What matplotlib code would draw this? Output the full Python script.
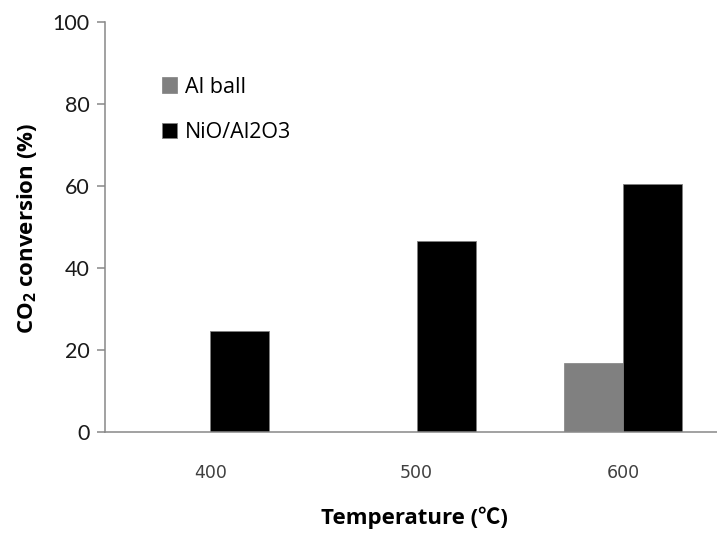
import numpy as np
import matplotlib
matplotlib.use("Agg")
import matplotlib.pyplot as plt

plt.rcParams['font.family'] = ['Lato', 'DejaVu Sans']
plt.rcParams['mathtext.default'] = 'regular'

temps = ['400', '500', '600']
al_ball = [0, 0, 16.8]
nio = [24.6, 46.6, 60.6]

fig = plt.figure(figsize=(7.17, 5.34), dpi=100)
ax = fig.add_axes([105/717, 102/534, 612/717, 410/534])

x = np.arange(len(temps))
w = 0.285
ax.bar(x - w/2, al_ball, w, color='#808080', edgecolor='#808080', linewidth=0.5, label='Al ball')
ax.bar(x + w/2, nio, w, color='black', edgecolor='#7f7f7f', linewidth=0.6, label='NiO/Al2O3')

ax.set_xlim(-0.51, 2.455)
ax.set_ylim(0, 100)
ax.set_yticks([0, 20, 40, 60, 80, 100])
ax.set_xticks(x)
ax.set_xticklabels(temps, family=['Liberation Sans Narrow', 'DejaVu Sans'], fontsize=12.5, color='#404040')

for s in ['top', 'right']:
    ax.spines[s].set_visible(False)
for s in ['left', 'bottom']:
    ax.spines[s].set_color('#888888')
    ax.spines[s].set_linewidth(1.1)

ax.tick_params(axis='y', direction='out', length=6, width=1.1, color='#888888',
               labelsize=15.5, labelcolor='#1a1a1a', pad=5)
ax.tick_params(axis='x', length=0, pad=23)

ax.set_xlabel('Temperature (℃)', fontsize=16, fontweight='bold',
              family=['Open Sans', 'Noto Sans CJK SC', 'DejaVu Sans'])
ax.xaxis.label.set_va('center')
ax.xaxis.set_label_coords(0.505, -0.21)

ax.set_ylabel('CO$_2$ conversion (%)', fontsize=16, fontweight='bold',
              family=['Open Sans', 'DejaVu Sans'])
ax.yaxis.label.set_va('center')
ax.yaxis.set_label_coords(-0.127, 0.497)

ax.legend(loc='upper left', bbox_to_anchor=(0.093, 0.867), frameon=False,
          prop={'family': ['Open Sans', 'DejaVu Sans'], 'size': 15.5},
          handlelength=0.72, handleheight=0.72, handletextpad=0.35,
          labelspacing=1.15, borderpad=0, borderaxespad=0)

fig.savefig('out.png', dpi=100)
